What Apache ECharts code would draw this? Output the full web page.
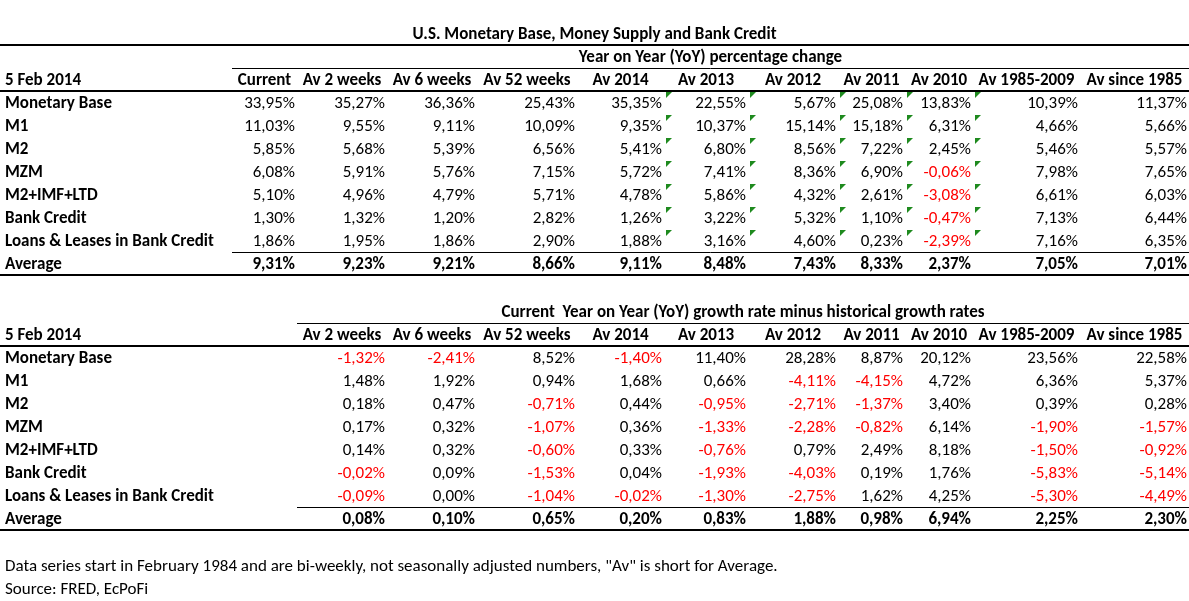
<!DOCTYPE html>
<html>
<head>
<meta charset="utf-8">
<script src="https://cdn.jsdelivr.net/npm/echarts@6/dist/echarts.min.js"></script>
<style>
html, body { margin: 0; padding: 0; background: #fff; }
#main { width: 1189px; height: 601px; }
</style>
</head>
<body>
<div id="main"></div>
<script>
// table data
var dateLabel = '5 Feb 2014';
var rowNames = ['Monetary Base', 'M1', 'M2', 'MZM', 'M2+IMF+LTD', 'Bank Credit', 'Loans & Leases in Bank Credit', 'Average'];
var yoyColumns = ['Current', 'Av 2 weeks', 'Av 6 weeks', 'Av 52 weeks', 'Av 2014', 'Av 2013', 'Av 2012', 'Av 2011', 'Av 2010', 'Av 1985-2009', 'Av since 1985'];
var diffColumns = ['Av 2 weeks', 'Av 6 weeks', 'Av 52 weeks', 'Av 2014', 'Av 2013', 'Av 2012', 'Av 2011', 'Av 2010', 'Av 1985-2009', 'Av since 1985'];

var yoyMonetaryBase = [33.95, 35.27, 36.36, 25.43, 35.35, 22.55, 5.67, 25.08, 13.83, 10.39, 11.37];
var yoyM1 = [11.03, 9.55, 9.11, 10.09, 9.35, 10.37, 15.14, 15.18, 6.31, 4.66, 5.66];
var yoyM2 = [5.85, 5.68, 5.39, 6.56, 5.41, 6.80, 8.56, 7.22, 2.45, 5.46, 5.57];
var yoyMZM = [6.08, 5.91, 5.76, 7.15, 5.72, 7.41, 8.36, 6.90, -0.06, 7.98, 7.65];
var yoyM2Imf = [5.10, 4.96, 4.79, 5.71, 4.78, 5.86, 4.32, 2.61, -3.08, 6.61, 6.03];
var yoyBankCredit = [1.30, 1.32, 1.20, 2.82, 1.26, 3.22, 5.32, 1.10, -0.47, 7.13, 6.44];
var yoyLoans = [1.86, 1.95, 1.86, 2.90, 1.88, 3.16, 4.60, 0.23, -2.39, 7.16, 6.35];
var yoyAverage = [9.31, 9.23, 9.21, 8.66, 9.11, 8.48, 7.43, 8.33, 2.37, 7.05, 7.01];

var diffMonetaryBase = [-1.32, -2.41, 8.52, -1.40, 11.40, 28.28, 8.87, 20.12, 23.56, 22.58];
var diffM1 = [1.48, 1.92, 0.94, 1.68, 0.66, -4.11, -4.15, 4.72, 6.36, 5.37];
var diffM2 = [0.18, 0.47, -0.71, 0.44, -0.95, -2.71, -1.37, 3.40, 0.39, 0.28];
var diffMZM = [0.17, 0.32, -1.07, 0.36, -1.33, -2.28, -0.82, 6.14, -1.90, -1.57];
var diffM2Imf = [0.14, 0.32, -0.60, 0.33, -0.76, 0.79, 2.49, 8.18, -1.50, -0.92];
var diffBankCredit = [-0.02, 0.09, -1.53, 0.04, -1.93, -4.03, 0.19, 1.76, -5.83, -5.14];
var diffLoans = [-0.09, 0.00, -1.04, -0.02, -1.30, -2.75, 1.62, 4.25, -5.30, -4.49];
var diffAverage = [0.08, 0.10, 0.65, 0.20, 0.83, 1.88, 0.98, 6.94, 2.25, 2.30];

// cells flagged with the green corner marker in the first table (column index)
var flaggedColumns = [5, 6, 7, 8, 9];

var yoyRows = [yoyMonetaryBase, yoyM1, yoyM2, yoyMZM, yoyM2Imf, yoyBankCredit, yoyLoans, yoyAverage];
var diffRows = [diffMonetaryBase, diffM1, diffM2, diffMZM, diffM2Imf, diffBankCredit, diffLoans, diffAverage];

// layout: column edges of the sheet (table units = px)
var colEdges = [232, 297, 387, 477, 577, 664, 748, 838, 905, 973, 1080, 1189];
var WIDTH = 1189;
var ROW_H = 23;
var FONT = 'Carlito, Lato, sans-serif';
var FS = 17;
var TEXT_DY = 1.5;

function pct(v) {
    return v.toFixed(2).replace('.', ',') + '%';
}

function buildCells(title, subtitle, subFrom, columns, rows, firstCol) {
    var cells = [];
    if (title) cells.push({ text: title, x: WIDTH / 2, y: -1.5, align: 'center', bold: true });
    cells.push({ text: subtitle, x: (colEdges[subFrom] + WIDTH) / 2, y: -0.5, align: 'center', bold: true });
    cells.push({ text: dateLabel, x: 5, y: 0.5, align: 'left', bold: true });
    columns.forEach(function (h, c) {
        var k = firstCol + c;
        cells.push({ text: h, x: (colEdges[k] + colEdges[k + 1]) / 2, y: 0.5, align: 'center', bold: true });
    });
    rows.forEach(function (vals, r) {
        var avg = r === rows.length - 1;
        cells.push({ text: rowNames[r], x: 5, y: r + 1.5, align: 'left', bold: true });
        vals.forEach(function (v, c) {
            var k = firstCol + c;
            cells.push({ text: pct(v), x: colEdges[k + 1] - 2, y: r + 1.5, align: 'right', bold: avg, red: v < 0 });
        });
    });
    return cells;
}

function buildRules(from) {
    return [
        { x0: 0, x1: WIDTH, y: -1, w: 2, top: true },
        { x0: colEdges[from], x1: WIDTH, y: 0, w: 1 },
        { x0: 0, x1: WIDTH, y: 1, w: 2 },
        { x0: colEdges[from], x1: WIDTH, y: 8, w: 1 },
        { x0: 0, x1: WIDTH, y: 9, w: 2 }
    ];
}

var topCells = buildCells('U.S. Monetary Base, Money Supply and Bank Credit', 'Year on Year (YoY) percentage change', 0, yoyColumns, yoyRows, 0);
var bottomCells = buildCells(null, 'Current  Year on Year (YoY) growth rate minus historical growth rates', 1, diffColumns, diffRows, 1);
var topRules = buildRules(0);
var bottomRules = buildRules(1).filter(function (r) { return !r.top; });

var topFlags = [];
for (var r = 0; r < rowNames.length - 1; r++) {
    flaggedColumns.forEach(function (c) { topFlags.push([colEdges[c], r + 1]); });
}

function textSeries(cells, idx) {
    return {
        type: 'custom',
        xAxisIndex: idx, yAxisIndex: idx,
        silent: true,
        data: cells.map(function (c) { return [c.x, c.y]; }),
        renderItem: function (params, api) {
            var c = cells[params.dataIndex];
            var p = api.coord([api.value(0), api.value(1)]);
            return {
                type: 'text',
                x: p[0], y: p[1] + TEXT_DY,
                style: {
                    text: c.text,
                    fill: c.red ? '#ff0000' : '#000',
                    fontFamily: FONT,
                    fontSize: FS,
                    fontWeight: c.bold ? 'bold' : 'normal',
                    align: c.align,
                    verticalAlign: 'middle'
                }
            };
        }
    };
}

function ruleSeries(rules, idx) {
    return {
        type: 'custom',
        xAxisIndex: idx, yAxisIndex: idx,
        silent: true,
        data: rules.map(function (l) { return [l.x0, l.y, l.x1, l.w]; }),
        renderItem: function (params, api) {
            var a = api.coord([api.value(0), api.value(1)]);
            var b = api.coord([api.value(2), api.value(1)]);
            var w = api.value(3);
            var y = w === 1 ? Math.round(a[1]) + 0.5 : Math.round(a[1]);
            return {
                type: 'line',
                shape: { x1: a[0], y1: y, x2: b[0], y2: y },
                style: { stroke: '#000', lineWidth: w }
            };
        }
    };
}

var myChart = echarts.init(document.getElementById('main'));
var option = {
    backgroundColor: '#fff',
    animation: false,
    title: [
        { text: 'Data series start in February 1984 and are bi-weekly, not seasonally adjusted numbers, "Av" is short for Average.', left: 5, top: 558, padding: 0,
          textStyle: { fontFamily: FONT, fontSize: FS, fontWeight: 'normal', color: '#000' } },
        { text: 'Source: FRED, EcPoFi', left: 5, top: 581, padding: 0,
          textStyle: { fontFamily: FONT, fontSize: FS, fontWeight: 'normal', color: '#000' } }
    ],
    grid: [
        { left: 0, right: 0, top: 67.5 - 2 * ROW_H, height: 11 * ROW_H },
        { left: 0, right: 0, top: 323 - ROW_H, height: 10 * ROW_H }
    ],
    xAxis: [
        { type: 'value', gridIndex: 0, min: 0, max: WIDTH, show: false },
        { type: 'value', gridIndex: 1, min: 0, max: WIDTH, show: false }
    ],
    yAxis: [
        { type: 'value', gridIndex: 0, min: -2, max: 9, inverse: true, show: false },
        { type: 'value', gridIndex: 1, min: -1, max: 9, inverse: true, show: false }
    ],
    series: [
        ruleSeries(topRules, 0),
        ruleSeries(bottomRules, 1),
        {
            type: 'custom',
            xAxisIndex: 0, yAxisIndex: 0,
            silent: true,
            data: topFlags,
            renderItem: function (params, api) {
                var p = api.coord([api.value(0), api.value(1)]);
                var x = Math.round(p[0]) + 2, y = Math.round(p[1]) + 1;
                return {
                    type: 'polygon',
                    shape: { points: [[x, y], [x + 6, y], [x, y + 6]] },
                    style: { fill: '#1e8a1e' }
                };
            }
        },
        textSeries(topCells, 0),
        textSeries(bottomCells, 1)
    ]
};
myChart.setOption(option);
</script>
</body>
</html>
